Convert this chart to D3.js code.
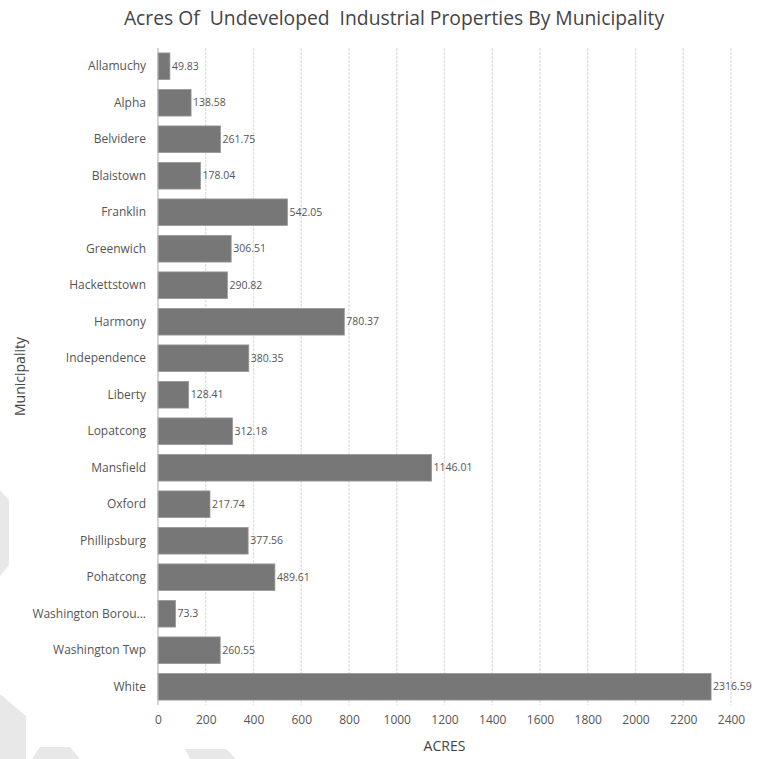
<!DOCTYPE html>
<html>
<head>
<meta charset="utf-8">
<script src="https://cdn.jsdelivr.net/npm/d3@7"></script>
<style>
  body { margin: 0; background: #fff; }
  svg { display: block; font-family: "Open Sans", "Noto Sans", sans-serif; }
</style>
</head>
<body>
<div id="chart"></div>
<script>
var municipalities = ["Allamuchy", "Alpha", "Belvidere", "Blaistown", "Franklin", "Greenwich",
  "Hackettstown", "Harmony", "Independence", "Liberty", "Lopatcong", "Mansfield", "Oxford",
  "Phillipsburg", "Pohatcong", "Washington Borou...", "Washington Twp", "White"];
var acres = [49.83, 138.58, 261.75, 178.04, 542.05, 306.51, 290.82, 780.37, 380.35, 128.41,
  312.18, 1146.01, 217.74, 377.56, 489.61, 73.3, 260.55, 2316.59];
var acreLabels = ["49.83", "138.58", "261.75", "178.04", "542.05", "306.51", "290.82", "780.37",
  "380.35", "128.41", "312.18", "1146.01", "217.74", "377.56", "489.61", "73.3", "260.55", "2316.59"];
var xTicks = [0, 200, 400, 600, 800, 1000, 1200, 1400, 1600, 1800, 2000, 2200, 2400];

var width = 769, height = 759;
var plotLeft = 158, plotRight = 731, plotTop = 48, plotBottom = 705;

var svg = d3.select("#chart").append("svg")
  .attr("width", width)
  .attr("height", height);

// faint watermark shapes in the background
var wm = svg.append("g").attr("fill", "#e8e8e8");
wm.append("polygon").attr("points", "0,490 9,500 9,565 0,576");
wm.append("polygon").attr("points", "0,694 26,716 26,759 0,759");
wm.append("polygon").attr("points", "40,747 70,747 80,759 32,759");
wm.append("polygon").attr("points", "185,749 226,749 236,759 190,759");

var x = d3.scaleLinear().domain([0, 2400]).range([plotLeft, plotRight]);
var y = d3.scaleBand().domain(municipalities).range([plotTop, plotBottom])
  .paddingInner(0.27).paddingOuter(0.135);

// grid
svg.append("g")
  .selectAll("line")
  .data(xTicks.slice(1))
  .join("line")
    .attr("x1", function(d) { return x(d); })
    .attr("x2", function(d) { return x(d); })
    .attr("y1", plotTop)
    .attr("y2", plotBottom)
    .attr("stroke", "#e0e0e0")
    .attr("stroke-width", 1.3)
    .attr("stroke-dasharray", "3,1");

// bars
svg.append("g")
  .selectAll("rect")
  .data(acres)
  .join("rect")
    .attr("x", x(0))
    .attr("y", function(d, i) { return y(municipalities[i]); })
    .attr("width", function(d) { return x(d) - x(0); })
    .attr("height", y.bandwidth())
    .attr("fill", "#777")
    .attr("stroke", "#999")
    .attr("stroke-width", 0.8);

// value labels
svg.append("g")
  .selectAll("text")
  .data(acres)
  .join("text")
    .attr("x", function(d) { return x(d) + 2; })
    .attr("y", function(d, i) { return y(municipalities[i]) + y.bandwidth() / 2; })
    .attr("dy", "0.35em")
    .attr("font-size", 10.5)
    .attr("fill", "#555")
    .text(function(d, i) { return acreLabels[i]; });

// y axis
var yAxis = svg.append("g")
  .attr("transform", "translate(" + plotLeft + ",0)")
  .call(d3.axisLeft(y).tickSize(0).tickPadding(12));
yAxis.select(".domain").attr("stroke", "#aaa").attr("d", "M0," + plotTop + "V" + plotBottom);
yAxis.selectAll("text").attr("font-size", 12).attr("fill", "#555")
  .attr("font-family", "'Open Sans', sans-serif");

// x axis
var xAxis = svg.append("g")
  .attr("transform", "translate(0," + plotBottom + ")")
  .call(d3.axisBottom(x).tickValues(xTicks).tickFormat(d3.format("d")).tickSize(0).tickPadding(10));
xAxis.select(".domain").remove();
xAxis.selectAll("text").attr("font-size", 12).attr("fill", "#555")
  .attr("font-family", "'Open Sans', sans-serif");

// titles
svg.append("text")
  .attr("x", 394)
  .attr("y", 25)
  .attr("text-anchor", "middle")
  .attr("font-size", 19.3)
  .attr("fill", "#444")
  .attr("xml:space", "preserve")
  .text("Acres Of  Undeveloped  Industrial Properties By Municipality");

svg.append("text")
  .attr("x", (plotLeft + plotRight) / 2)
  .attr("y", 751)
  .attr("text-anchor", "middle")
  .attr("font-size", 14)
  .attr("fill", "#444")
  .text("ACRES");

svg.append("text")
  .attr("transform", "translate(25," + ((plotTop + plotBottom) / 2) + ") rotate(-90)")
  .attr("text-anchor", "middle")
  .attr("font-size", 14)
  .attr("fill", "#444")
  .text("Municipality");
</script>
</body>
</html>
